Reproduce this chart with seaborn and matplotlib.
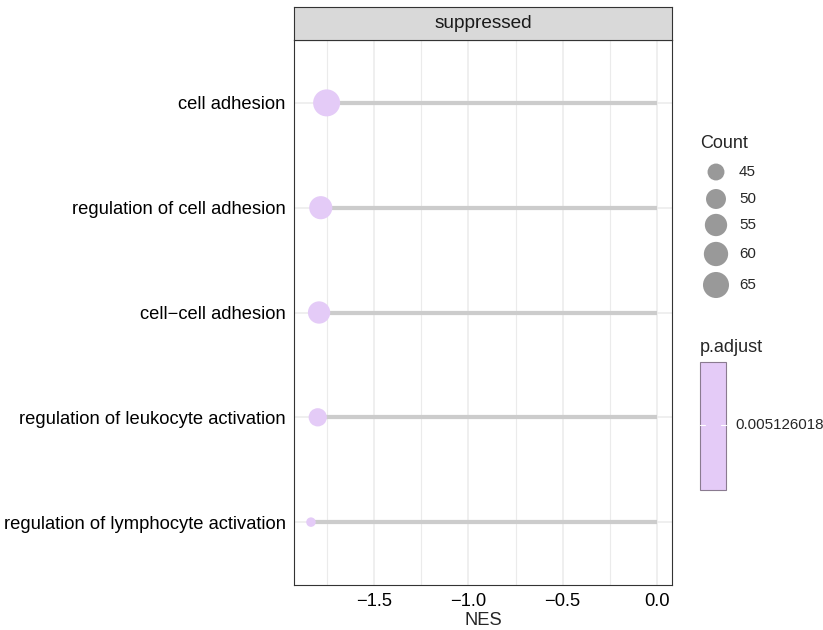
import numpy as np
import pandas as pd
import matplotlib
matplotlib.use("Agg")
import matplotlib.pyplot as plt
from matplotlib.patches import Rectangle
import seaborn as sns

# ---- data -------------------------------------------------------------
descriptions = [
    "cell adhesion",
    "regulation of cell adhesion",
    "cell\u2212cell adhesion",
    "regulation of leukocyte activation",
    "regulation of lymphocyte activation",
]
nes = [-1.752, -1.783, -1.792, -1.799, -1.835]
counts = [68, 57, 55, 47, 40]
p_adjust = [0.005126018] * 5
facet_label = "suppressed"
count_breaks = [45, 50, 55, 60, 65]
padj_label = "0.005126018"
x_ticks = [-1.5, -1.0, -0.5, 0.0]

df = pd.DataFrame({"Description": descriptions, "NES": nes,
                   "Count": counts, "p.adjust": p_adjust})

# ---- styling ----------------------------------------------------------
sns.set_style("white")
plt.rcParams["font.family"] = ["Liberation Sans", "DejaVu Sans"]
plt.rcParams["axes.unicode_minus"] = True

DPI = 100
W, H = 823, 630
POINT_COLOR = "#E4CBF7"
SEG_COLOR = "#CCCCCC"
GRID_COLOR = "#EBEBEB"
FRAME_COLOR = "#333333"
PX = 72.0 / DPI  # points per pixel

FS_AXIS = 13.2
FS_TITLE = 13.0
FS_KEY = 10.9

D_MIN, D_MAX = 9.5, 27.0  # marker diameter range in px
c_lo, c_hi = min(counts), max(counts)


def count_to_area(c):
    frac = (c - c_lo) / (c_hi - c_lo)
    d = D_MIN + (D_MAX - D_MIN) * np.sqrt(frac)
    return (d * PX) ** 2


fig = plt.figure(figsize=(W / DPI, H / DPI), dpi=DPI)


def px_rect(x0, y0, x1, y1):
    """Figure-fraction rect from pixel box (top-left origin)."""
    return [x0 / W, 1 - y1 / H, (x1 - x0) / W, (y1 - y0) / H]


# ---- main panel -------------------------------------------------------
ax = fig.add_axes(px_rect(294, 40, 672, 585))
ax.set_facecolor("white")

ax.hlines(df["Description"], xmin=0, xmax=df["NES"], color=SEG_COLOR,
          linewidth=4.2 * PX, capstyle="butt", zorder=2)

sizes = {c: count_to_area(c) for c in counts}
sns.scatterplot(data=df, x="NES", y="Description", size="Count",
                sizes=sizes, color=POINT_COLOR, edgecolor="none",
                legend=False, ax=ax, zorder=3)

ax.set_xlim(-1.925, 0.08)
ax.set_ylim(len(descriptions) - 1 + 0.6, -0.6)
ax.set_xticks(x_ticks)
ax.set_xticklabels([f"{t:.1f}".replace("-", "\u2212") for t in x_ticks])
ax.set_xticks([-1.75, -1.25, -0.75, -0.25], minor=True)
ax.grid(True, which="major", color=GRID_COLOR, linewidth=1.1)
ax.grid(True, which="minor", axis="x", color=GRID_COLOR, linewidth=0.8)
ax.set_axisbelow(True)
ax.tick_params(axis="both", which="major", direction="out", length=3.5,
               width=0.8, color=FRAME_COLOR, labelsize=FS_AXIS,
               labelcolor="black", pad=2.5)
ax.tick_params(axis="x", which="minor", length=0)
ax.set_xlabel("NES", fontsize=FS_AXIS, labelpad=1)
ax.set_ylabel("")
for sp in ax.spines.values():
    sp.set_color(FRAME_COLOR)
    sp.set_linewidth(0.8)

# ---- facet strip ------------------------------------------------------
sax = fig.add_axes(px_rect(294, 7, 672, 40))
sax.set_facecolor("#D9D9D9")
sax.set_xticks([])
sax.set_yticks([])
for sp in sax.spines.values():
    sp.set_color(FRAME_COLOR)
    sp.set_linewidth(0.8)
sax.text(0.5, 0.5, facet_label, ha="center", va="center",
         fontsize=FS_AXIS + 0.5, color="#1A1A1A", transform=sax.transAxes)

# ---- legends (pixel coordinate canvas) ---------------------------------
lax = fig.add_axes([0, 0, 1, 1], facecolor="none")
lax.set_xlim(0, W)
lax.set_ylim(H, 0)
lax.axis("off")

lax.text(700, 143, "Count", fontsize=FS_TITLE, va="center", ha="left")
key_y = [172, 199, 225, 254, 285]
lax.scatter([716] * len(count_breaks), key_y,
            s=[count_to_area(c) for c in count_breaks],
            color="#999999", edgecolor="none")
for c, y in zip(count_breaks, key_y):
    lax.text(739, y, str(c), fontsize=FS_KEY, va="center", ha="left")

lax.text(700, 348, "p.adjust", fontsize=FS_TITLE, va="center", ha="left")
lax.add_patch(Rectangle((700, 362), 26, 128, facecolor=POINT_COLOR,
                        edgecolor="#8A7B90", linewidth=0.8))
lax.plot([700, 705], [425, 425], color="white", linewidth=0.8)
lax.plot([721, 726], [425, 425], color="white", linewidth=0.8)
lax.text(735, 425, padj_label, fontsize=FS_KEY, va="center", ha="left")

fig.savefig("out.png", dpi=DPI)
